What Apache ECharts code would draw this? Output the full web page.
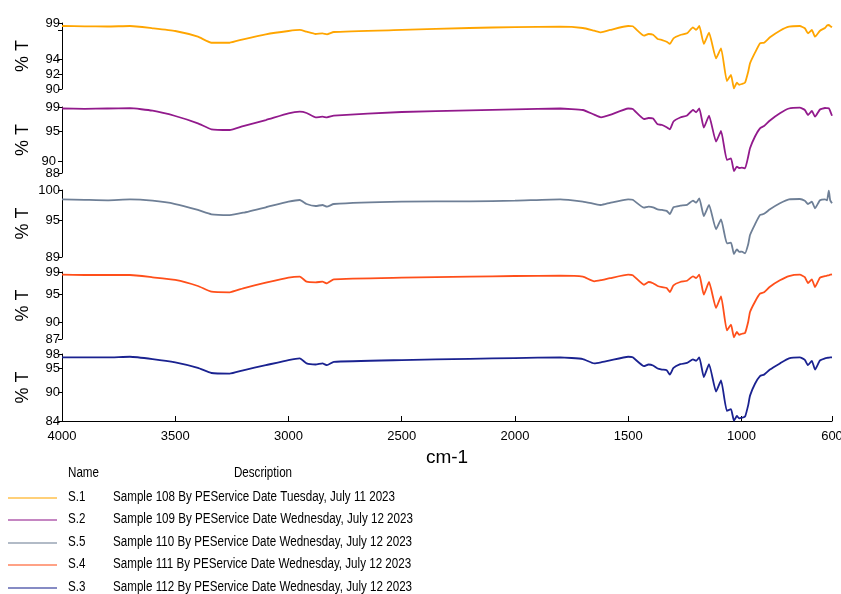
<!DOCTYPE html>
<html>
<head>
<meta charset="utf-8">
<script src="https://cdn.jsdelivr.net/npm/echarts@6/dist/echarts.min.js"></script>
<style>
  html, body { margin: 0; padding: 0; background: #fff; }
  #main { width: 841px; height: 594px; }
</style>
</head>
<body>
<div id="main"></div>
<script>
// wavenumbers (cm-1), shared by all spectra
var wn = [4000, 3900, 3800, 3700, 3600, 3500, 3400, 3340, 3260, 3200, 3100, 3000, 2950, 2920, 2880, 2850, 2830, 2800,
  2500, 2200, 2000, 1800, 1700, 1650, 1620, 1580, 1500, 1480, 1430, 1410, 1390, 1370, 1350, 1330, 1316, 1300,
  1270, 1240, 1214, 1200, 1186, 1166, 1143, 1112, 1090, 1064, 1046, 1033, 1020, 1010, 998, 984, 970, 962,
  940, 918, 900, 874, 830, 790, 742, 720, 706, 689, 675, 653, 631, 622, 614, 608, 600];

// %T for each sample
var s1 = [98.59, 98.55, 98.52, 98.59, 98.28, 97.91, 97.13, 96.31, 96.31, 96.78,
  97.46, 97.91, 98.05, 97.81, 97.50, 97.59, 97.46, 97.77, 98.05, 98.32,
  98.45, 98.50, 98.32, 97.95, 97.73, 98.05, 98.59, 98.55, 97.27, 97.50,
  97.40, 96.82, 96.68, 96.45, 96.14, 96.91, 97.36, 97.59, 98.41, 98.05,
  98.59, 96.14, 97.68, 94.18, 95.55, 91.09, 91.91, 90.09, 90.86, 90.58,
  90.68, 90.86, 92.36, 93.50, 94.95, 96.23, 96.31, 97.05, 97.95, 98.50,
  98.59, 98.28, 97.59, 98.05, 97.13, 97.95, 98.32, 98.66, 98.73, 98.59, 98.41];
var s2 = [98.75, 98.70, 98.75, 98.80, 98.38, 97.50, 96.28, 95.28, 95.17, 95.83,
  96.83, 97.95, 98.22, 98.00, 97.28, 97.38, 97.28, 97.55, 98.17, 98.45,
  98.62, 98.75, 98.50, 97.72, 97.28, 97.67, 98.75, 98.67, 97.00, 97.17,
  97.08, 96.12, 96.00, 95.62, 95.28, 96.58, 97.25, 97.58, 98.50, 98.12,
  98.75, 95.55, 97.55, 93.22, 95.00, 90.17, 90.45, 88.33, 89.05, 88.83,
  88.88, 88.78, 90.75, 92.12, 94.08, 95.45, 95.83, 96.75, 97.95, 98.75,
  98.88, 98.50, 97.67, 98.33, 97.38, 98.58, 98.83, 98.80, 98.78, 98.33, 97.55];
var s5 = [98.47, 98.39, 98.31, 98.47, 98.24, 97.70, 96.72, 96.01, 95.89, 96.27,
  97.16, 98.08, 98.36, 97.70, 97.37, 97.54, 97.26, 97.70, 98.08, 98.14,
  98.24, 98.47, 98.08, 97.73, 97.54, 97.90, 98.47, 98.39, 97.09, 97.26,
  97.16, 96.83, 96.72, 96.58, 96.06, 97.16, 97.42, 97.57, 98.24, 97.91,
  98.64, 95.73, 97.54, 93.55, 95.19, 91.25, 91.35, 89.49, 90.26, 89.85,
  89.87, 89.61, 91.08, 92.61, 94.37, 95.89, 96.09, 96.83, 97.82, 98.47,
  98.52, 98.23, 97.70, 98.08, 97.00, 98.31, 98.47, 98.31, 99.90, 98.31, 97.82];
var s4 = [98.52, 98.46, 98.46, 98.46, 98.05, 97.57, 96.49, 95.47, 95.36, 96.08,
  97.08, 97.98, 98.16, 97.26, 97.15, 97.26, 96.97, 97.69, 97.98, 98.16,
  98.28, 98.34, 98.16, 97.33, 97.53, 97.89, 98.52, 98.43, 96.72, 97.21,
  96.99, 96.49, 96.28, 96.13, 95.42, 96.62, 97.21, 97.44, 98.23, 97.92,
  98.52, 94.93, 97.21, 92.55, 94.65, 88.55, 89.56, 87.30, 88.25, 87.76,
  87.94, 88.07, 90.09, 91.83, 93.68, 95.11, 95.38, 96.37, 97.51, 98.28,
  98.52, 98.07, 97.03, 97.69, 96.31, 97.98, 98.25, 98.37, 98.41, 98.52, 98.59];
var s3 = [97.30, 97.30, 97.30, 97.43, 96.94, 96.24, 95.09, 94.03, 93.90, 94.60,
  95.66, 96.73, 97.09, 96.03, 95.81, 96.03, 95.66, 96.37, 96.73, 96.98,
  97.15, 97.30, 96.94, 96.03, 96.24, 96.66, 97.43, 97.30, 95.45, 95.81,
  95.60, 94.96, 94.75, 94.60, 93.69, 95.09, 95.88, 96.13, 96.87, 96.58,
  97.30, 93.18, 95.88, 90.14, 92.48, 86.11, 86.47, 84.05, 85.05, 84.56,
  84.69, 84.90, 87.32, 89.30, 91.78, 93.39, 93.69, 94.75, 96.03, 97.09,
  97.30, 96.77, 95.66, 96.58, 94.75, 96.66, 97.09, 97.19, 97.24, 97.30, 97.30];

var names = ['S.1', 'S.2', 'S.5', 'S.4', 'S.3'];
var descs = [
  'Sample 108 By PEService Date Tuesday, July 11 2023',
  'Sample 109 By PEService Date Wednesday, July 12 2023',
  'Sample 110 By PEService Date Wednesday, July 12 2023',
  'Sample 111 By PEService Date Wednesday, July 12 2023',
  'Sample 112 By PEService Date Wednesday, July 12 2023'
];
var spectra = [s1, s2, s5, s4, s3];
var colors = ['#FFA500', '#921A8C', '#6E7F96', '#FF4F1A', '#1A2290'];
var yMins = [90, 88, 89, 87, 84];
var yMaxs = [99, 99, 100, 99, 98];
var yLabels = [[90, 92, 94, 99], [88, 95, 99], [89, 95, 100], [87, 90, 95, 99], [84, 90, 95, 98]];
// labels that sit too close to a neighbour, put on a second (line-less) axis so they are not dropped
var yLabelsExtra = [[], [90], [], [], []];
var xLabels = [4000, 3500, 3000, 2500, 2000, 1500, 1000, 600];

// panel layout (px)
var tops = [23, 107, 190, 272, 354];
var heights = [66, 66, 67, 67, 67];
var font = '"Liberation Sans", Arial, sans-serif';

var chart = echarts.init(document.getElementById('main'));

var grids = [], xAxes = [], yAxes = [], series = [];
for (var i = 0; i < 5; i++) {
  var last = i === 4;
  grids.push({ left: 62, right: 9, top: tops[i], height: heights[i], outerBoundsMode: 'none' });
  xAxes.push({
    gridIndex: i, type: 'value', min: 600, max: 4000, inverse: true, show: last,
    splitLine: { show: false },
    axisLine: { lineStyle: { color: '#000', width: 1 } },
    axisTick: { inside: true, length: 5, lineStyle: { color: '#000' }, customValues: xLabels },
    axisLabel: { color: '#000', fontFamily: font, fontSize: 13, margin: 9, customValues: xLabels,
      formatter: function (v) { return String(v); } },
    name: last ? 'cm-1' : '', nameLocation: 'middle', nameGap: 27, nameMoveOverlap: false,
    nameTextStyle: { color: '#000', fontFamily: font, fontSize: 19 }
  });
  var ticks = yLabels[i].concat(yLabelsExtra[i]);
  if (i === 0) ticks.push(98);
  yAxes.push({
    gridIndex: i, type: 'value', min: yMins[i], max: yMaxs[i],
    splitLine: { show: false },
    axisLine: { show: true, lineStyle: { color: '#000', width: 1 } },
    axisTick: { show: true, length: 4, lineStyle: { color: '#000' }, customValues: ticks },
    axisLabel: { color: '#000', fontFamily: font, fontSize: 13, margin: 2, hideOverlap: false,
      showMinLabel: true, showMaxLabel: true, customValues: yLabels[i] },
    name: '% T', nameLocation: 'middle', nameRotate: 90, nameGap: 30, nameMoveOverlap: false,
    nameTextStyle: { color: '#000', fontFamily: font, fontSize: 18 }
  });
  series.push({
    name: names[i], type: 'line', xAxisIndex: i, yAxisIndex: i,
    showSymbol: false, smooth: 0.15,
    lineStyle: { color: colors[i], width: 1.8 },
    data: wn.map(function (w, j) { return [w, spectra[i][j]]; })
  });
}
for (var e = 0; e < 5; e++) {
  if (!yLabelsExtra[e].length) continue;
  yAxes.push({
    gridIndex: e, type: 'value', min: yMins[e], max: yMaxs[e], position: 'left', offset: 0,
    splitLine: { show: false }, axisLine: { show: false }, axisTick: { show: false },
    axisLabel: { color: '#000', fontFamily: font, fontSize: 13, margin: 6, customValues: yLabelsExtra[e] }
  });
}

// legend table drawn under the plot (narrowed to look like the condensed original face)
var txt = '14px ' + font;
var sx = 0.83;
var graphic = [
  { type: 'text', x: 68, y: 473, scaleX: sx, style: { text: 'Name', font: txt, fill: '#000', verticalAlign: 'middle' } },
  { type: 'text', x: 263, y: 473, scaleX: sx, style: { text: 'Description', font: txt, fill: '#000', align: 'center', verticalAlign: 'middle' } }
];
var rowY = [497, 519, 542, 564, 587];
for (var k = 0; k < 5; k++) {
  graphic.push({ type: 'line', shape: { x1: 8, y1: rowY[k] + 1, x2: 57, y2: rowY[k] + 1 },
    style: { stroke: colors[k], lineWidth: 1.6, opacity: 0.7 } });
  graphic.push({ type: 'text', x: 68, y: rowY[k], scaleX: sx, style: { text: names[k], font: txt, fill: '#000', verticalAlign: 'middle' } });
  graphic.push({ type: 'text', x: 113, y: rowY[k], scaleX: sx, style: { text: descs[k], font: txt, fill: '#000', verticalAlign: 'middle' } });
}

chart.setOption({
  animation: false,
  backgroundColor: '#fff',
  grid: grids,
  xAxis: xAxes,
  yAxis: yAxes,
  series: series,
  graphic: graphic
});
</script>
</body>
</html>
